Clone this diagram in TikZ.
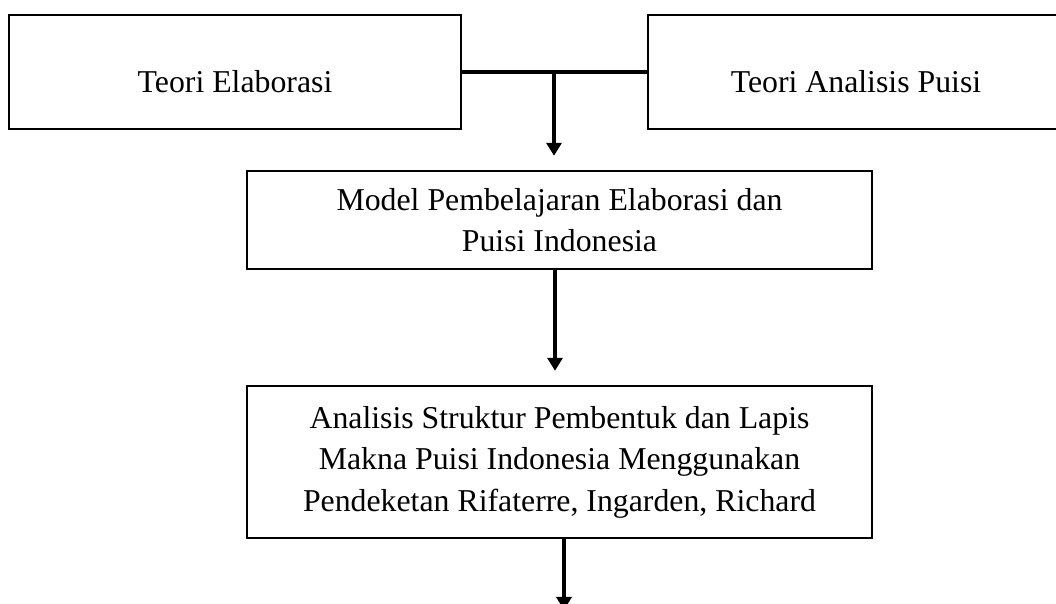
\documentclass[tikz,border=0pt]{standalone}
\usepackage{fontspec}
\setmainfont{Liberation Serif}
\usetikzlibrary{arrows.meta}
\begin{document}
\begin{tikzpicture}[x=1pt,y=1pt,
  box/.style={draw, line width=2.4pt, rectangle, inner sep=0pt, align=center,
    font=\fontsize{31.8}{41.5}\selectfont},
  conn/.style={line width=3.2pt},
  arr/.style={line width=3.2pt, -{Triangle[width=15pt,length=13pt]}}]
\useasboundingbox (0,0) rectangle (1056,604);
\node[box, minimum width=452pt, minimum height=114pt, text height=42pt, text depth=0pt] (e1) at (235,532) {Teori Elaborasi};
\node[box, minimum width=416pt, minimum height=114pt, text height=42pt, text depth=0pt] (e2) at (856,532) {Teori Analisis Puisi};
\node[box, minimum width=625pt, minimum height=98pt] (m) at (559.5,384) {Model Pembelajaran Elaborasi dan\\Puisi Indonesia};
\node[box, minimum width=625pt, minimum height=152pt] (a) at (559.5,142) {Analisis Struktur Pembentuk dan Lapis\\Makna Puisi Indonesia Menggunakan\\Pendeketan Rifaterre, Ingarden, Richard};
\coordinate (j) at (554,532);
\coordinate (end) at (564,-6);
\draw[conn] (e1.east) -- (e2.west);
\draw[arr, shorten >=14pt] (j) -- (j |- m.north);
\draw[arr, shorten >=14pt] (555,0 |- m.south) -- (555,0 |- a.north);
\draw[arr] (564,0 |- a.south) -- (end);
\end{tikzpicture}
\end{document}
